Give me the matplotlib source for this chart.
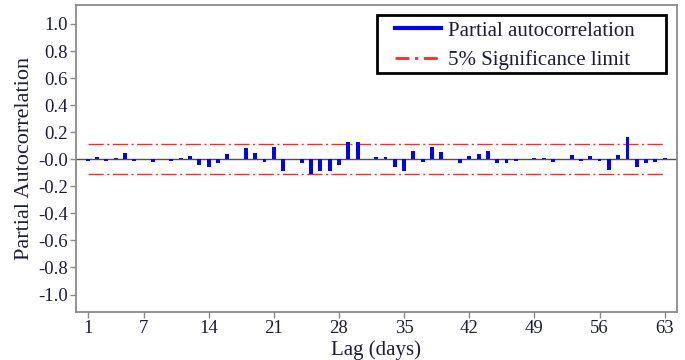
"""Partial autocorrelation of daily series, lags 1-63"""

import matplotlib
matplotlib.use("Agg")
import matplotlib.pyplot as plt
import numpy as np
from matplotlib.lines import Line2D
from matplotlib.patches import Rectangle

lags = np.arange(1, 64)
pacf = [
    -0.010, 0.015, -0.010, 0.010, 0.045, -0.015, 0.003, -0.020, 0.000, -0.015,
    0.010, 0.025, -0.040, -0.055, -0.030, 0.040, 0.000, 0.085, 0.045, -0.018,
    0.090, -0.090, 0.000, -0.030, -0.110, -0.090, -0.085, -0.040, 0.130, 0.130,
    0.002, 0.020, 0.015, -0.060, -0.085, 0.060, -0.020, 0.090, 0.055, 0.000,
    -0.025, 0.025, 0.040, 0.060, -0.025, -0.025, -0.010, 0.000, 0.010, 0.010,
    -0.020, 0.000, 0.030, -0.010, 0.025, -0.010, -0.080, 0.035, 0.165, -0.060,
    -0.030, -0.020, 0.010,
]
sig_limit = 0.11
xticks = [1, 7, 14, 21, 28, 35, 42, 49, 56, 63]
yticks = np.round(np.arange(-1.0, 1.01, 0.2), 1)

plt.rcParams["font.family"] = ["Liberation Serif", "DejaVu Serif"]
INK = "#1c1c3a"
SPINE = "#8a8a8a"
BLUE = "#0000ff"
RED = "#ff2a2a"

fig = plt.figure(figsize=(6.85, 3.6), dpi=100)
ax = fig.add_axes([0.111, 0.133, 0.877, 0.853])

ax.bar(lags, pacf, width=0.42, color=BLUE, linewidth=0, zorder=3)
ax.axhline(0, color="#505050", linewidth=1.0, zorder=2)

dash = (0, (11, 2.5, 1.5, 2.5))
for s in (sig_limit, -sig_limit):
    ax.plot([lags[0], lags[-1]], [s, s], color=RED, linewidth=1.0,
            linestyle=dash, zorder=2)

ax.set_xlim(-0.25, 64.3)
ax.set_ylim(-1.13, 1.14)
ax.set_xticks(xticks)
ax.set_yticks(yticks)
ax.set_yticklabels([f"{v:.1f}" for v in yticks])
ax.tick_params(axis="both", direction="out", length=4, width=1,
               color=SPINE, labelcolor=INK, labelsize=13.5, pad=2)
for sp in ax.spines.values():
    sp.set_color(SPINE)
    sp.set_linewidth(1.3)

ax.set_xlabel("Lag (days)", fontsize=15, color=INK, labelpad=2)
ax.set_ylabel("Partial Autocorrelation", fontsize=16, color=INK, labelpad=3)

# legend box drawn separately so the padding matches the original
ax.add_patch(Rectangle((0.501, 0.778), 0.481, 0.189, transform=ax.transAxes,
                       facecolor="white", edgecolor="black", linewidth=2,
                       zorder=4))
handles = [
    Line2D([], [], color=BLUE, linewidth=3),
    Line2D([], [], color=RED, linewidth=2, linestyle=(0, (5, 2, 1.2, 2))),
]
leg = ax.legend(handles, ["Partial autocorrelation", "5% Significance limit"],
                loc="center left", bbox_to_anchor=(0.531, 0.868),
                fontsize=15, frameon=False, borderpad=0, borderaxespad=0,
                handlelength=2.2, handletextpad=0.35, labelspacing=0.45)
leg.set_zorder(5)
for t in leg.get_texts():
    t.set_color(INK)

fig.savefig("out.png", dpi=100)
plt.close(fig)
